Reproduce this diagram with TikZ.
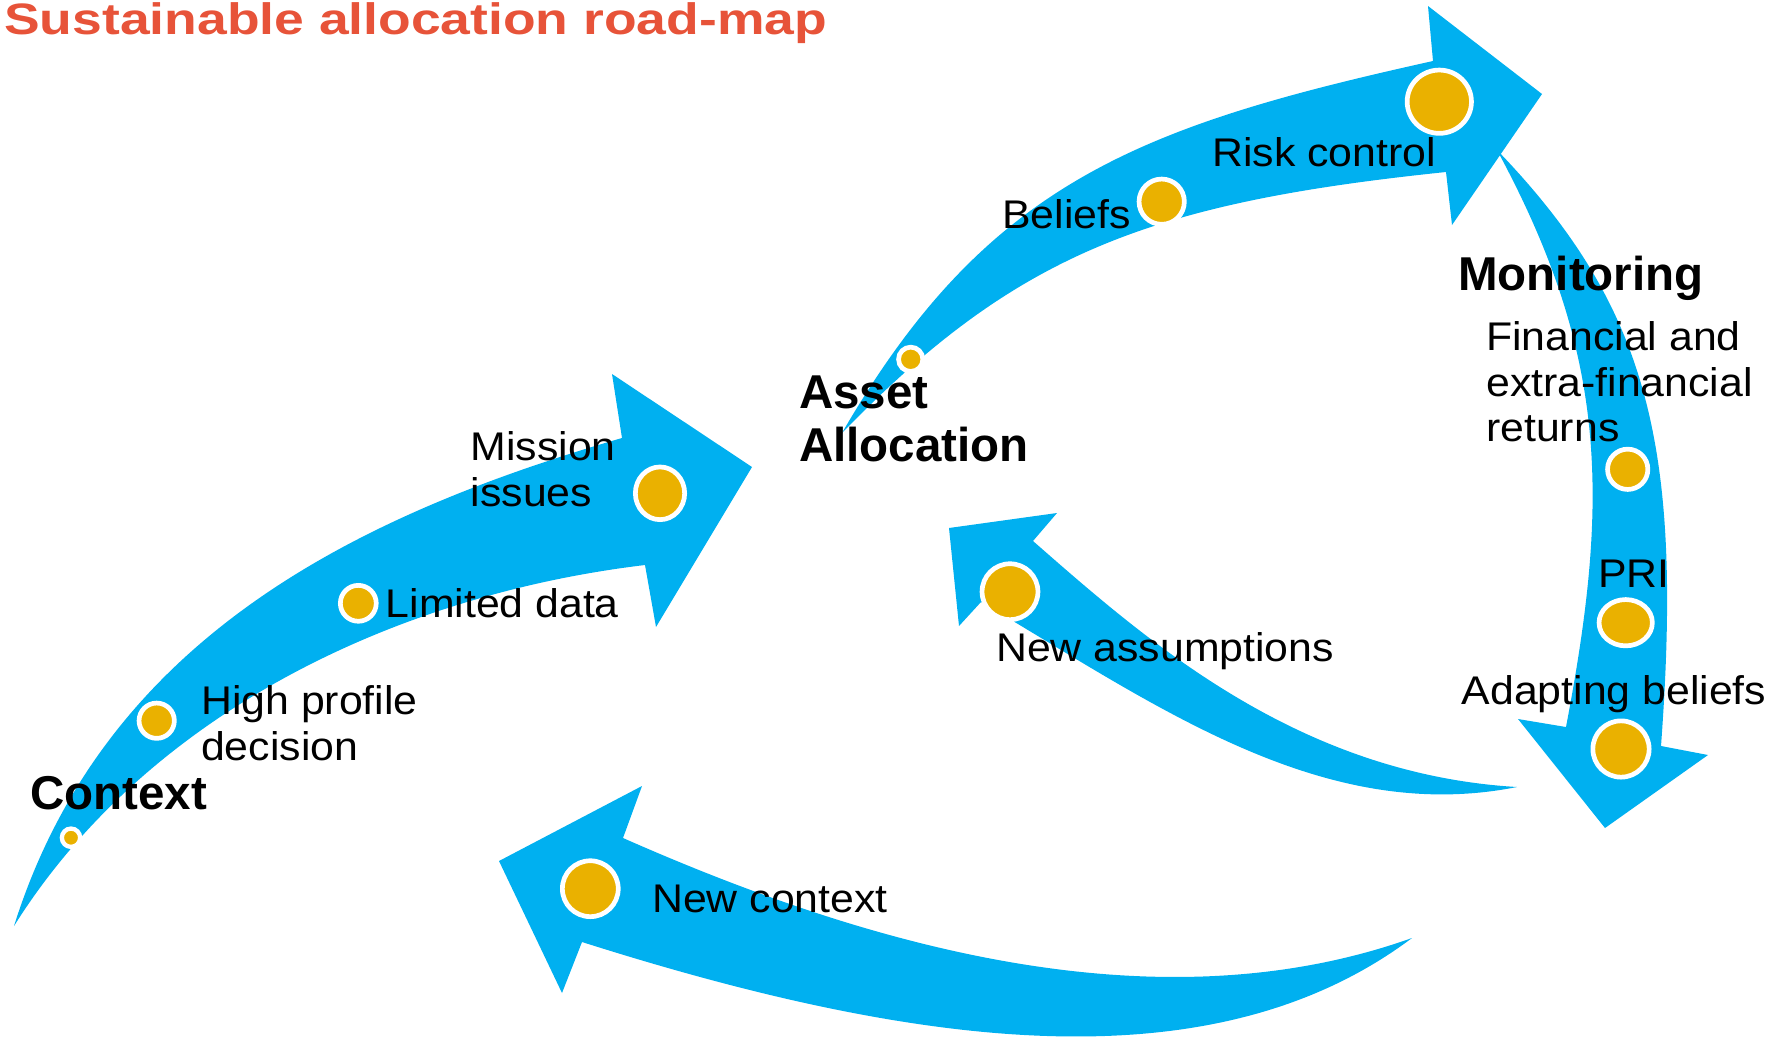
\documentclass[tikz,border=0pt]{standalone}
\usepackage{fontspec}
\setmainfont{Liberation Sans}
\newfontfamily\bodyfont[FakeStretch=1.07]{Liberation Sans}
\newfontfamily\titlefont[FakeStretch=1.215]{Liberation Sans}
\usetikzlibrary{shapes.geometric}
\definecolor{arrowblue}{RGB}{0,176,240}
\definecolor{dotgold}{RGB}{234,177,0}
\definecolor{titlered}{RGB}{231,83,57}
\begin{document}
\begin{tikzpicture}[x=1pt,y=-1pt,
  arrowbody/.style={fill=arrowblue},
  dot/.style={ellipse, fill=dotgold, draw=white, line width=4.7pt, inner sep=0pt, outer sep=0pt},
  lbl/.style={inner sep=0pt, anchor=base west, align=left, font=\bodyfont\fontsize{40}{45.7}\selectfont},
  hdr/.style={inner sep=0pt, anchor=base west, align=left, font=\fontsize{47.5}{53.4}\selectfont\bfseries},
  ttl/.style={inner sep=0pt, anchor=base west, text=titlered, font=\titlefont\fontsize{44}{50}\selectfont\bfseries}
]
\useasboundingbox (0,0) rectangle (1778,1037);

% arrow 1 : context -> asset allocation
\fill[arrowbody] (14,926) .. controls (104,640) and (353,516) .. (622,438)
  -- (612,374) -- (752,467) -- (656,627) -- (645,565)
  .. controls (395,595) and (147,714) .. (14,926) -- cycle;
% arrow 3 : monitoring (down)
\fill[arrowbody] (1497,150) .. controls (1609,357) and (1609,501) .. (1566,727)
  -- (1518,719) -- (1605,828) -- (1708,755) -- (1661,746)
  .. controls (1683,447) and (1649,308) .. (1497,150) -- cycle;
% arrow 2 : asset allocation -> risk control
\fill[arrowbody] (842,433) .. controls (987,182) and (1140,126) .. (1433,61)
  -- (1428,6) -- (1542,94) -- (1452,225) -- (1446,172)
  .. controls (1148,203) and (1016,254) .. (842,433) -- cycle;
% arrow 4 : new assumptions
\fill[arrowbody] (1517,787) .. controls (1321,826) and (1153,703) .. (981,602)
  -- (959,626) -- (949,528) -- (1057,513) -- (1033,541)
  .. controls (1146,640) and (1297,774) .. (1517,787) -- cycle;
% arrow 5 : new context
\fill[arrowbody] (1412,938) .. controls (1212,1088) and (916,1048) .. (582,942)
  -- (562,993) -- (499,861) -- (642,786) -- (623,838)
  .. controls (852,939) and (1148,1032) .. (1412,938) -- cycle;

% dots
\node[dot, minimum width=18.3pt, minimum height=18.3pt, line width=4.3pt] (ctxdot) at (71,837.7) {};
\node[dot, minimum width=35.3pt, minimum height=35.3pt] (highdot) at (156.7,720.7) {};
\node[dot, minimum width=35.9pt, minimum height=35.9pt] (limdot) at (358.3,603.3) {};
\node[dot, minimum width=49.3pt, minimum height=52.7pt] (missdot) at (660,493.3) {};
\node[dot, minimum width=24.3pt, minimum height=24.3pt] (aadot) at (910.7,359.3) {};
\node[dot, minimum width=45.3pt, minimum height=45.3pt] (beliefdot) at (1161.7,201.7) {};
\node[dot, minimum width=64.3pt, minimum height=63.3pt] (riskdot) at (1439.3,101.7) {};
\node[dot, minimum width=40.3pt, minimum height=40.3pt] (findot) at (1627.7,469.3) {};
\node[dot, minimum width=53.3pt, minimum height=46.3pt] (pridot) at (1625.7,622.7) {};
\node[dot, minimum width=56.3pt, minimum height=56.3pt] (adaptdot) at (1621,749) {};
\node[dot, minimum width=55.9pt, minimum height=55.9pt] (assumdot) at (1010,591.7) {};
\node[dot, minimum width=55.9pt, minimum height=55.9pt] (newctxdot) at (590.3,888.7) {};

% texts (multi-line nodes are placed at the baseline of their last line)
\node[ttl] (title) at (4,34.3) {Sustainable allocation road-map};
\node[lbl] (mission) at (470.5,506) {Mission\\issues};
\node[lbl] (limited) at (385.5,617.7) {Limited data};
\node[lbl] (high) at (201,760.5) {High profile\\decision};
\node[hdr] (context) at (30,809) {Context};
\node[hdr] (asset) at (799,461.7) {Asset\\Allocation};
\node[lbl] (beliefs) at (1002,228.3) {Beliefs};
\node[lbl] (risk) at (1212,166.7) {Risk control};
\node[hdr] (monitoring) at (1458,290) {Monitoring};
\node[lbl] (financial) at (1486,441.7) {Financial and\\extra-financial\\returns};
\node[lbl] (pri) at (1598,587.7) {PRI};
\node[lbl] (adapting) at (1461.5,704.3) {Adapting beliefs};
\node[lbl] (assumptions) at (996,661) {New assumptions};
\node[lbl] (newcontext) at (652,912.3) {New context};
\end{tikzpicture}
\end{document}
